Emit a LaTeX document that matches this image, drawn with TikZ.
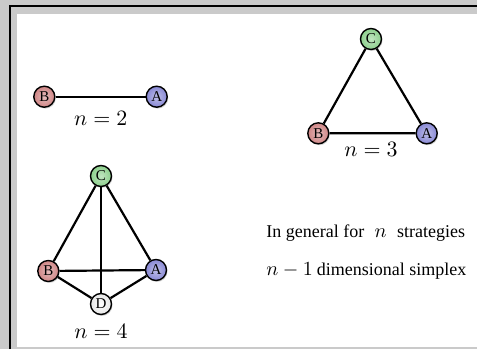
\documentclass[tikz,border=0pt]{standalone}
\usepackage{fontspec}
\setmainfont{Liberation Serif}
\usetikzlibrary{shadows}
\definecolor{framegray}{HTML}{CACACA}
\definecolor{vertred}{HTML}{CF8585}
\definecolor{vertblue}{HTML}{8888D4}
\definecolor{vertgreen}{HTML}{8CCF8C}
\definecolor{vertgray}{HTML}{E6E6E6}

\begin{document}
\begin{tikzpicture}[x=0.5pt,y=-0.5pt,
    vertex/.style={circle,draw=black,line width=0.7pt,minimum size=10.5pt,inner sep=0pt,
      font=\fontsize{7.5}{8}\selectfont,
      drop shadow={opacity=0.35,shadow xshift=0.5pt,shadow yshift=-0.7pt}},
    redv/.style={vertex,shading=radial,inner color=vertred!55,outer color=vertred},
    bluev/.style={vertex,shading=radial,inner color=vertblue!55,outer color=vertblue},
    greenv/.style={vertex,shading=radial,inner color=vertgreen!55,outer color=vertgreen},
    grayv/.style={vertex,shading=radial,inner color=white,outer color=vertgray},
    edge/.style={line width=1.1pt},
    caption/.style={anchor=base,font=\fontsize{10.5}{12}\selectfont}]
    \useasboundingbox (0,0) rectangle (477,349);
    % window frame
    \fill[framegray] (0,0) rectangle (477,349);
    \draw[line width=0.7pt] (10,349) -- (10,6) -- (477,6);
    \fill[white] (17,14) rectangle (477,347);
    % n = 2
    \node[redv] (b2) at (44.3,96.7) {B};
    \node[bluev] (a2) at (156.7,96.7) {A};
    \draw[edge] (b2) -- (a2);
    \node[caption] (lab2) at (100.7,125) {$n=2$};
    % n = 3
    \node[greenv] (c3) at (371,39) {C};
    \node[redv] (b3) at (318.3,133.3) {B};
    \node[bluev] (a3) at (426.7,133.3) {A};
    \draw[edge] (b3) -- (c3) -- (a3) -- (b3);
    \node[caption] (lab3) at (371,156.7) {$n=3$};
    % n = 4
    \node[greenv] (c4) at (101,176) {C};
    \node[redv] (b4) at (48.3,271) {B};
    \node[bluev] (a4) at (156,270) {A};
    \node[grayv] (d4) at (101,304) {D};
    \draw[edge] (b4) -- (c4) -- (a4) -- (b4);
    \draw[edge] (c4) -- (d4);
    \draw[edge] (b4) -- (d4) -- (a4);
    \node[caption] (lab4) at (101,338) {$n=4$};
    % general case
    \node[anchor=base west,inner sep=0pt,font=\fontsize{9}{11}\selectfont] (gen) at (266,237)
      {In general for\hspace{5.2pt}{\fontsize{10}{12}\selectfont$n$}\hspace{5.2pt}strategies};
    \node[anchor=base west,inner sep=0pt,font=\fontsize{9}{11}\selectfont] (simp) at (266,275)
      {{\fontsize{10}{12}\selectfont$n-1$}\hspace{2pt}dimensional simplex};
\end{tikzpicture}
\end{document}
